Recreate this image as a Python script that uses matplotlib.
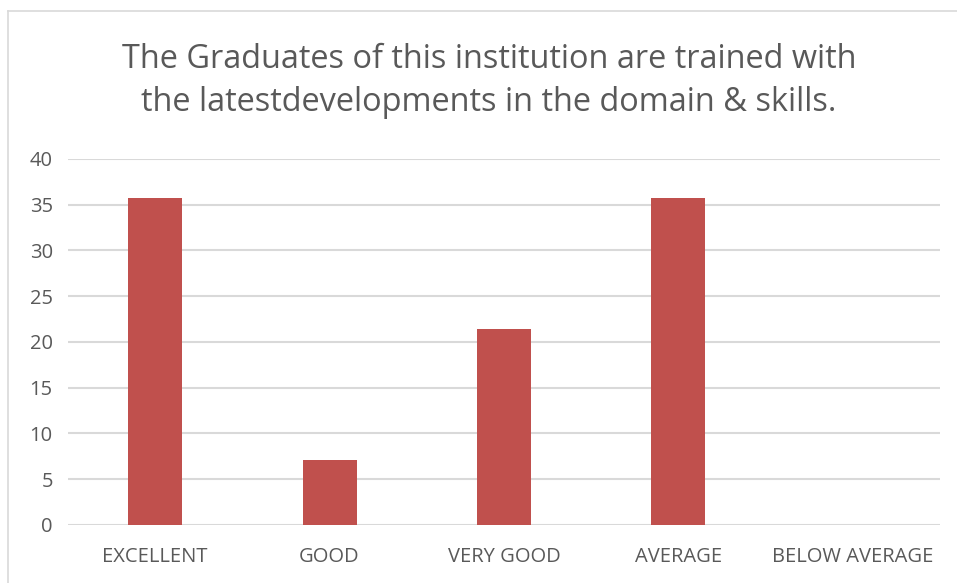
import matplotlib
matplotlib.use("Agg")
import matplotlib.pyplot as plt
from matplotlib.lines import Line2D

# survey responses (percent)
categories = ["EXCELLENT", "GOOD", "VERY GOOD", "AVERAGE", "BELOW AVERAGE"]
values = [35.71, 7.14, 21.43, 35.71, 0]
yticks = [0, 5, 10, 15, 20, 25, 30, 35, 40]
title = "The Graduates of this institution are trained with\nthe latestdevelopments in the domain & skills."

plt.rcParams['font.family'] = ['Open Sans', 'DejaVu Sans']

fig = plt.figure(figsize=(9.57, 5.83), dpi=100)
ax = fig.add_axes([0.0711, 0.0995, 0.9109, 0.6278])

x = range(len(categories))
ax.bar(x, values, width=0.31, color="#c0504d", zorder=3)

ax.set_xlim(-0.5, len(categories) - 0.5)
ax.set_ylim(0, 40)
ax.set_yticks(yticks)
ax.set_xticks(list(x))
ax.set_xticklabels(categories)
ax.tick_params(axis='both', length=0, labelsize=14.5, labelcolor="#595959")
ax.tick_params(axis='x', pad=16)
ax.tick_params(axis='y', pad=11)
ax.grid(axis='y', color="#d9d9d9", linewidth=1.5, zorder=0)
for s in ax.spines.values():
    s.set_visible(False)

fig.text(0.511, 0.861, title, ha='center', va='center', fontsize=23.4,
         color="#595959", linespacing=1.38)

# chart border (left and top edges visible)
fig.add_artist(Line2D([8/957, 8/957], [0, 1 - 11/583], transform=fig.transFigure,
                      color="#d9d9d9", linewidth=1.2))
fig.add_artist(Line2D([8/957, 1], [1 - 11/583, 1 - 11/583], transform=fig.transFigure,
                      color="#d9d9d9", linewidth=1.2))

fig.savefig("out.png", dpi=100)
